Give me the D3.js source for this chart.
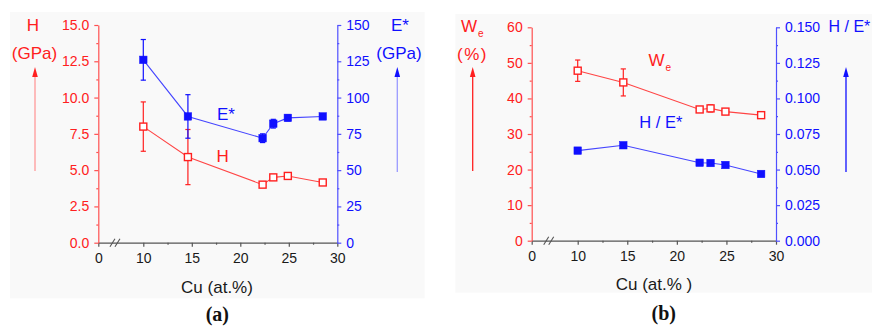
<!DOCTYPE html>
<html>
<head>
<meta charset="utf-8">
<script src="https://cdn.jsdelivr.net/npm/d3@7"></script>
<style>
  html, body { margin: 0; padding: 0; background: #ffffff; }
  svg { display: block; font-family: "Liberation Sans", Arial, sans-serif; }
</style>
</head>
<body>
<svg id="chart" width="872" height="326"></svg>
<script>
// ---------- data ----------
const cuContent = [10, 14.6, 22.3, 23.4, 24.9, 28.5];
const hardness = [8.0, 5.9, 4.0, 4.5, 4.6, 4.15];
const hardnessErr = [1.7, 1.9, 0.15, 0.2, 0.15, 0.1];
const modulus = [126, 87, 72, 82, 86, 87];
const modulusErr = [14, 15, 3, 3, 2, 1.5];
const elasticRecovery = [47.8, 44.5, 36.9, 37.2, 36.3, 35.3];
const elasticRecoveryErr = [3.0, 3.8, 0.5, 1.0, 0.5, 0.3];
const hOverE = [0.0633, 0.0671, 0.0548, 0.0546, 0.0532, 0.0469];

const xTicks = [0, 10, 15, 20, 25, 30];
const xMinorTicks = [12.5, 17.5, 22.5, 27.5];
const hTicks = [0, 2.5, 5, 7.5, 10, 12.5, 15];
const eTicks = [0, 25, 50, 75, 100, 125, 150];
const weTicks = [0, 10, 20, 30, 40, 50, 60];
const heTicks = [0, 0.025, 0.05, 0.075, 0.1, 0.125, 0.15];

// ---------- style ----------
const RED = "#ff2020", RED_AXIS = "#ff5050", RED_LINE = "#ff4545", RED_PALE = "#ff9a9a";
const BLUE = "#1010ff", BLUE_AXIS = "#5050ff", BLUE_LINE = "#4545ff", BLUE_PALE = "#9a9aff";
const GREY_AXIS = "#555555", TICK_TEXT = "#1a1a1a";

const svg = d3.select("#chart");

function minorOf(ticks) {
  const out = [];
  for (let i = 0; i < ticks.length - 1; i++) out.push((ticks[i] + ticks[i + 1]) / 2);
  return out;
}

function drawPanel(cfg) {
  const g = svg.append("g");
  g.append("rect")
    .attr("x", cfg.bg[0]).attr("y", cfg.bg[1])
    .attr("width", cfg.bg[2] - cfg.bg[0]).attr("height", cfg.bg[3] - cfg.bg[1])
    .attr("fill", "#f9f9f9");

  const x = d3.scaleLinear().domain([0, 10, 30]).range([cfg.left, cfg.left + cfg.breakW, cfg.right]);
  const yL = d3.scaleLinear().domain([0, cfg.leftTicks[cfg.leftTicks.length - 1]]).range([cfg.bottom, cfg.top]);
  const yR = d3.scaleLinear().domain([0, cfg.rightTicks[cfg.rightTicks.length - 1]]).range([cfg.bottom, cfg.top]);

  // x axis
  const gx = g.append("g").attr("transform", `translate(0,${cfg.bottom})`);
  gx.call(d3.axisBottom(x).tickValues(xTicks).tickSize(4).tickSizeOuter(0).tickPadding(6).tickFormat(d3.format("d")));
  gx.append("g").call(d3.axisBottom(x).tickValues(xMinorTicks).tickSize(2).tickSizeOuter(0).tickFormat(""))
    .select(".domain").remove();
  gx.selectAll("path, line").attr("stroke", GREY_AXIS).attr("stroke-width", 1.2);
  gx.selectAll("text").attr("fill", TICK_TEXT).style("font-size", "14px");

  // axis break marks
  const bx = x(3.7);
  [-2.5, 2.5].forEach(off => {
    g.append("line")
      .attr("x1", bx + off - 2.5).attr("y1", cfg.bottom + 4)
      .attr("x2", bx + off + 2.5).attr("y2", cfg.bottom - 4)
      .attr("stroke", GREY_AXIS).attr("stroke-width", 1.1);
  });

  // left axis
  const gl = g.append("g").attr("transform", `translate(${cfg.left},0)`);
  gl.call(d3.axisLeft(yL).tickValues(cfg.leftTicks).tickSize(4).tickSizeOuter(0).tickPadding(5).tickFormat(d3.format(cfg.leftFmt)));
  gl.append("g").call(d3.axisLeft(yL).tickValues(minorOf(cfg.leftTicks)).tickSize(2).tickSizeOuter(0).tickFormat(""))
    .select(".domain").remove();
  gl.selectAll("path, line").attr("stroke", RED_AXIS).attr("stroke-width", 1.2);
  gl.selectAll("text").attr("fill", RED).style("font-size", "14px");

  // right axis
  const gr = g.append("g").attr("transform", `translate(${cfg.right},0)`);
  gr.call(d3.axisRight(yR).tickValues(cfg.rightTicks).tickSize(4).tickSizeOuter(0).tickPadding(5).tickFormat(d3.format(cfg.rightFmt)));
  gr.append("g").call(d3.axisRight(yR).tickValues(minorOf(cfg.rightTicks)).tickSize(2).tickSizeOuter(0).tickFormat(""))
    .select(".domain").remove();
  gr.selectAll("path, line").attr("stroke", BLUE_AXIS).attr("stroke-width", 1.2);
  gr.selectAll("text").attr("fill", BLUE).style("font-size", "14px");

  // series
  function series(vals, errs, scale, lineColor, color, filled) {
    const pts = cuContent.map((c, i) => ({ c, v: vals[i], e: errs ? errs[i] : 0 }));
    g.append("path").datum(pts)
      .attr("d", d3.line().x(d => x(d.c)).y(d => scale(d.v)))
      .attr("fill", "none").attr("stroke", lineColor).attr("stroke-width", 1.1);
    if (errs) {
      const eg = g.append("g").attr("stroke", color).attr("stroke-width", 1.2);
      pts.forEach(d => {
        const xp = x(d.c), y1 = scale(d.v + d.e), y2 = scale(d.v - d.e);
        eg.append("line").attr("x1", xp).attr("x2", xp).attr("y1", y1).attr("y2", y2);
        eg.append("line").attr("x1", xp - 2.6).attr("x2", xp + 2.6).attr("y1", y1).attr("y2", y1);
        eg.append("line").attr("x1", xp - 2.6).attr("x2", xp + 2.6).attr("y1", y2).attr("y2", y2);
      });
    }
    const s = filled ? 7.5 : 7;
    g.append("g").selectAll("rect").data(pts).join("rect")
      .attr("x", d => x(d.c) - s / 2).attr("y", d => scale(d.v) - s / 2)
      .attr("width", s).attr("height", s)
      .attr("fill", filled ? color : "#ffffff")
      .attr("stroke", color).attr("stroke-width", filled ? 0.5 : 1.4);
  }
  series(cfg.redVals, cfg.redErr, yL, RED_LINE, RED, false);
  series(cfg.blueVals, cfg.blueErr, yR, BLUE_LINE, BLUE, true);

  // arrows
  function arrow(xp, yTop, yBot, shaft, head) {
    g.append("line").attr("x1", xp).attr("x2", xp).attr("y1", yTop + 8).attr("y2", yBot)
      .attr("stroke", shaft).attr("stroke-width", 1.3);
    g.append("path")
      .attr("d", `M${xp},${yTop} L${xp - 2.8},${yTop + 10} L${xp + 2.8},${yTop + 10} Z`)
      .attr("fill", head);
  }
  arrow(cfg.leftArrowX, 67, 171, cfg.leftShaft, RED);
  arrow(cfg.rightArrowX, 67, 172, cfg.rightShaft, BLUE);

  // texts
  cfg.texts.forEach(t => {
    const el = g.append("text")
      .attr("x", t.x).attr("y", t.y)
      .attr("text-anchor", t.anchor || "middle")
      .attr("fill", t.color)
      .style("font-size", (t.size || 17) + "px");
    if (t.family) el.style("font-family", t.family);
    if (t.weight) el.style("font-weight", t.weight);
    if (t.ls) el.style("letter-spacing", t.ls + "px");
    if (t.sub) {
      el.append("tspan").text(t.text);
      el.append("tspan").text(t.sub).attr("dy", 5).style("font-size", "10px").attr("dx", 1);
    } else {
      el.text(t.text);
    }
  });
}

const SERIF = "'Liberation Serif', 'DejaVu Serif', serif";

drawPanel({
  bg: [10, 12, 424.7, 298.3],
  left: 98.3, right: 337.3, breakW: 45, top: 25, bottom: 242.7,
  leftTicks: hTicks, rightTicks: eTicks, leftFmt: ".1f", rightFmt: "d",
  redVals: hardness, redErr: hardnessErr, blueVals: modulus, blueErr: modulusErr,
  leftArrowX: 35, rightArrowX: 397.3, leftShaft: RED_PALE, rightShaft: BLUE_PALE,
  texts: [
    { text: "H", x: 33, y: 31, color: RED },
    { text: "(GPa)", x: 34.5, y: 59, color: RED },
    { text: "E*", x: 400, y: 31, color: BLUE },
    { text: "(GPa)", x: 399, y: 59, color: BLUE },
    { text: "E*", x: 217, y: 120, color: BLUE, anchor: "start" },
    { text: "H", x: 216.5, y: 162, color: RED, anchor: "start" },
    { text: "Cu (at.%)", x: 217, y: 292.5, color: TICK_TEXT },
    { text: "(a)", x: 217.3, y: 321, color: "#111", family: SERIF, weight: "bold", size: 20 }
  ]
});

drawPanel({
  bg: [455.3, 14, 872, 292.7],
  left: 531.7, right: 776, breakW: 46, top: 27.3, bottom: 240.7,
  leftTicks: weTicks, rightTicks: heTicks, leftFmt: "d", rightFmt: ".3f",
  redVals: elasticRecovery, redErr: elasticRecoveryErr, blueVals: hOverE, blueErr: null,
  leftArrowX: 472.7, rightArrowX: 846, leftShaft: RED, rightShaft: BLUE,
  texts: [
    { text: "W", sub: "e", x: 461, y: 32, color: RED, anchor: "start" },
    { text: "(%)", x: 472.5, y: 59.5, color: RED, ls: 1.5 },
    { text: "H / E*", x: 828.5, y: 32, color: BLUE, anchor: "start", size: 16 },
    { text: "W", sub: "e", x: 648.5, y: 66, color: RED, anchor: "start" },
    { text: "H / E*", x: 639.3, y: 127.5, color: BLUE, anchor: "start", size: 16.5 },
    { text: "Cu (at.% )", x: 654, y: 290, color: TICK_TEXT },
    { text: "(b)", x: 663.7, y: 319.5, color: "#111", family: SERIF, weight: "bold", size: 20 }
  ]
});
</script>
</body>
</html>
